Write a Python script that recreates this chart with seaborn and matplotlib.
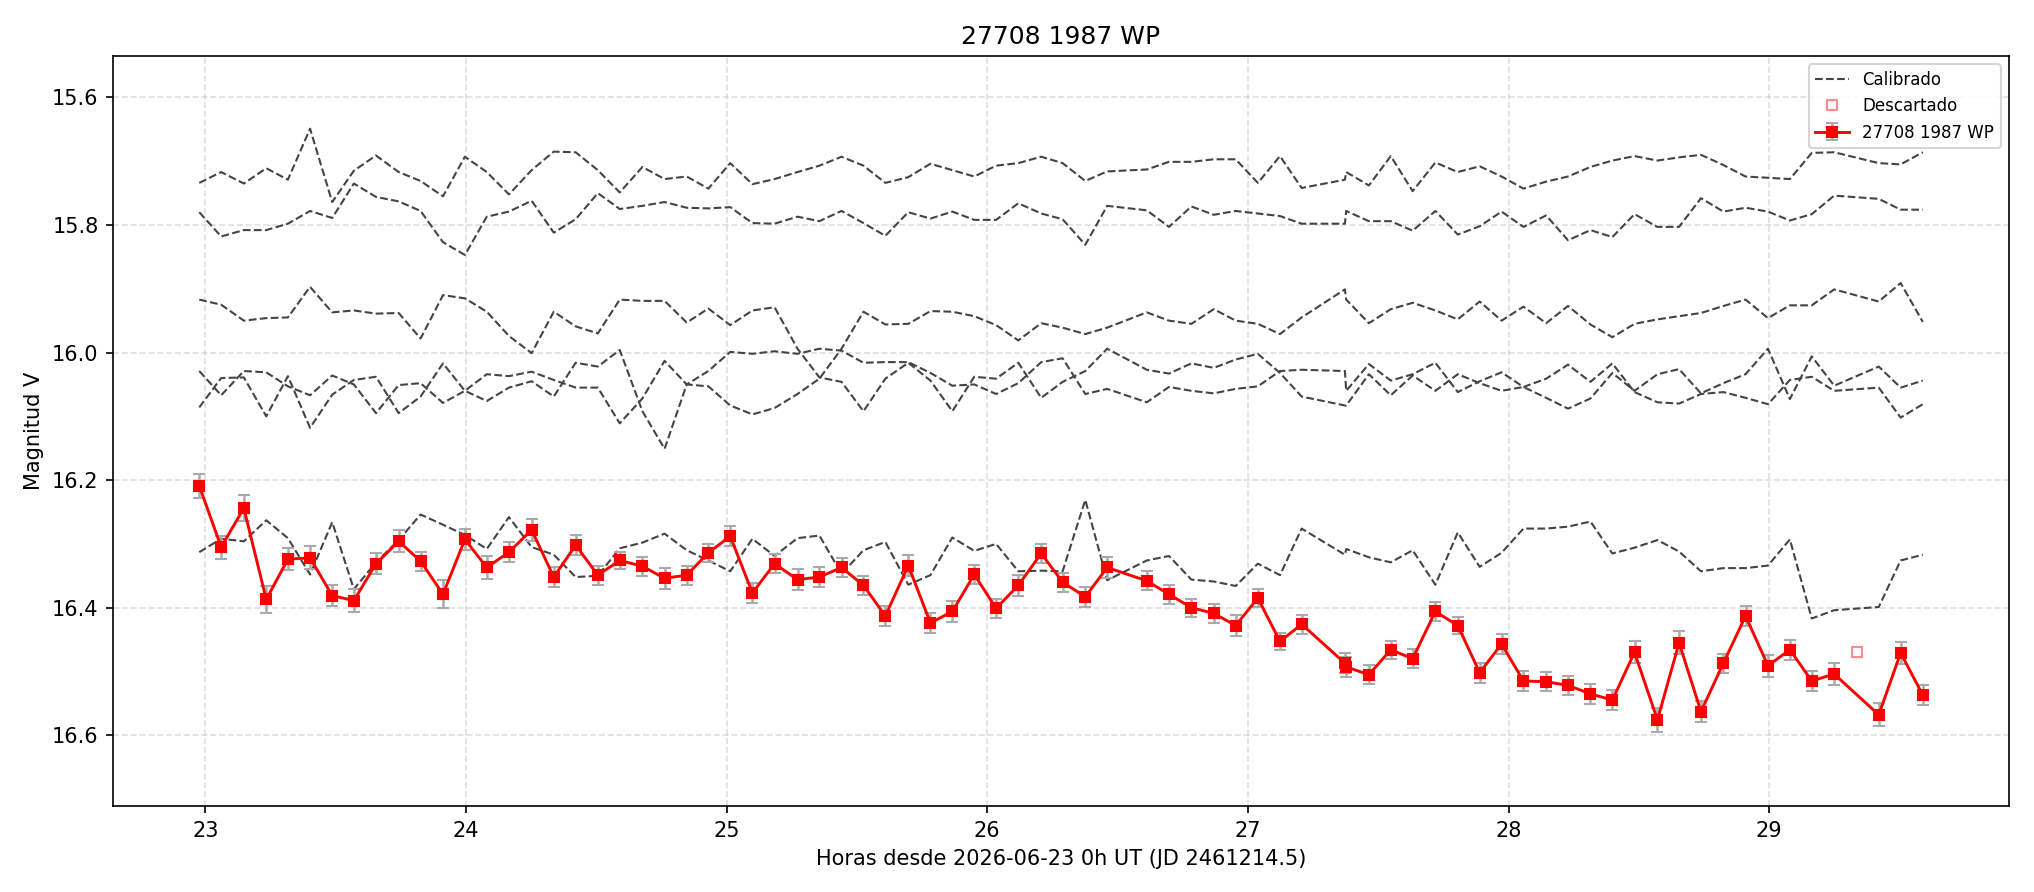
import numpy as np
import pandas as pd
import matplotlib
matplotlib.use('Agg')
import matplotlib.pyplot as plt
import seaborn as sns

# Curva de luz: horas desde 2026-06-23 0h UT
horas = [22.977, 23.061, 23.148, 23.234, 23.317, 23.402, 23.487, 23.570, 23.655, 23.742, 23.826, 23.912, 23.996,
         24.080, 24.165, 24.252, 24.337, 24.421, 24.506, 24.590, 24.677, 24.762, 24.847, 24.930, 25.014, 25.099,
         25.184, 25.272, 25.356, 25.441, 25.525, 25.609, 25.697, 25.782, 25.866, 25.950, 26.034, 26.119, 26.207,
         26.289, 26.376, 26.460, 26.612, 26.697, 26.783, 26.869, 26.953, 27.038, 27.123, 27.206, 27.372, 27.377,
         27.464, 27.548, 27.632, 27.719, 27.805, 27.889, 27.973, 28.057, 28.144, 28.228, 28.314, 28.398, 28.483,
         28.571, 28.654, 28.738, 28.824, 28.909, 28.995, 29.079, 29.163, 29.249, 29.420, 29.504, 29.589]

# asteroide 27708 1987 WP
mag_obj = [16.209, 16.305, 16.244, 16.387, 16.324, 16.322, 16.381, 16.389, 16.331, 16.296, 16.327, 16.379, 16.293,
           16.337, 16.313, 16.278, 16.352, 16.302, 16.349, 16.326, 16.335, 16.354, 16.349, 16.314, 16.288, 16.377,
           16.331, 16.356, 16.352, 16.337, 16.365, 16.413, 16.334, 16.424, 16.406, 16.348, 16.401, 16.365, 16.315,
           16.360, 16.383, 16.337, 16.358, 16.379, 16.400, 16.409, 16.428, 16.385, 16.453, 16.426, 16.487, 16.493,
           16.505, 16.466, 16.480, 16.406, 16.428, 16.502, 16.457, 16.515, 16.516, 16.522, 16.535, 16.545, 16.470,
           16.576, 16.455, 16.563, 16.487, 16.413, 16.491, 16.466, 16.515, 16.504, 16.568, 16.471, 16.537]

err_obj = [0.019, 0.018, 0.020, 0.021, 0.017, 0.018, 0.016, 0.018, 0.016, 0.017, 0.015, 0.022, 0.017,
           0.018, 0.016, 0.017, 0.016, 0.016, 0.015, 0.014, 0.015, 0.016, 0.015, 0.014, 0.016, 0.015,
           0.015, 0.016, 0.016, 0.015, 0.015, 0.016, 0.016, 0.016, 0.017, 0.015, 0.015, 0.016, 0.015,
           0.015, 0.016, 0.016, 0.015, 0.015, 0.014, 0.015, 0.016, 0.014, 0.014, 0.015, 0.016, 0.016,
           0.015, 0.014, 0.015, 0.015, 0.014, 0.016, 0.015, 0.016, 0.015, 0.015, 0.016, 0.016, 0.017,
           0.019, 0.018, 0.017, 0.015, 0.016, 0.017, 0.016, 0.016, 0.017, 0.018, 0.017, 0.016]

# punto descartado
horas_desc = [29.336]
mag_desc = [16.469]

# estrellas de calibracion
cal_a = [15.734, 15.717, 15.735, 15.711, 15.729, 15.649, 15.764, 15.715, 15.691, 15.717, 15.731, 15.755, 15.693,
         15.717, 15.752, 15.714, 15.685, 15.686, 15.714, 15.749, 15.709, 15.728, 15.724, 15.743, 15.703, 15.736,
         15.728, 15.717, 15.707, 15.693, 15.707, 15.734, 15.725, 15.704, 15.714, 15.724, 15.707, 15.703, 15.693,
         15.703, 15.731, 15.716, 15.713, 15.701, 15.701, 15.697, 15.697, 15.734, 15.692, 15.742, 15.729, 15.717,
         15.738, 15.692, 15.747, 15.702, 15.717, 15.708, 15.724, 15.743, 15.732, 15.724, 15.709, 15.699, 15.692,
         15.699, 15.694, 15.690, 15.706, 15.724, 15.726, 15.728, 15.687, 15.686, 15.703, 15.705, 15.686]
cal_b = [15.780, 15.818, 15.808, 15.808, 15.798, 15.778, 15.789, 15.735, 15.756, 15.763, 15.778, 15.827, 15.847,
         15.787, 15.779, 15.762, 15.812, 15.791, 15.750, 15.775, 15.770, 15.764, 15.773, 15.774, 15.772, 15.797,
         15.798, 15.787, 15.794, 15.778, 15.797, 15.817, 15.780, 15.790, 15.779, 15.792, 15.792, 15.766, 15.782,
         15.791, 15.831, 15.770, 15.777, 15.803, 15.771, 15.784, 15.778, 15.782, 15.786, 15.798, 15.798, 15.778,
         15.794, 15.794, 15.809, 15.778, 15.815, 15.802, 15.779, 15.803, 15.785, 15.824, 15.808, 15.819, 15.783,
         15.803, 15.803, 15.758, 15.779, 15.773, 15.779, 15.793, 15.783, 15.754, 15.759, 15.776, 15.776]
cal_c = [15.917, 15.925, 15.950, 15.946, 15.945, 15.897, 15.937, 15.934, 15.939, 15.938, 15.978, 15.910, 15.915,
         15.936, 15.974, 16.001, 15.936, 15.959, 15.970, 15.917, 15.919, 15.919, 15.953, 15.931, 15.957, 15.934,
         15.929, 15.994, 16.039, 16.046, 16.092, 16.041, 16.016, 16.044, 16.092, 16.038, 16.041, 16.016, 16.071,
         16.046, 16.029, 15.994, 16.027, 16.033, 16.017, 16.024, 16.011, 16.002, 16.032, 16.069, 16.083, 16.083,
         16.034, 16.067, 16.036, 16.060, 16.034, 16.048, 16.060, 16.054, 16.071, 16.088, 16.072, 16.032, 16.060,
         16.034, 16.026, 16.064, 16.048, 16.034, 15.994, 16.073, 16.006, 16.052, 16.022, 16.055, 16.044]
cal_d = [16.029, 16.067, 16.029, 16.031, 16.053, 16.067, 16.036, 16.050, 16.095, 16.051, 16.048, 16.079, 16.060,
         16.034, 16.037, 16.030, 16.043, 16.055, 16.055, 16.111, 16.072, 16.013, 16.050, 16.029, 15.999, 16.002,
         15.998, 16.002, 15.994, 15.997, 16.016, 16.015, 16.015, 16.032, 16.052, 16.050, 16.065, 16.048, 16.015,
         16.009, 16.065, 16.057, 16.078, 16.054, 16.060, 16.064, 16.057, 16.053, 16.029, 16.027, 16.029, 16.060,
         16.018, 16.044, 16.034, 16.016, 16.062, 16.045, 16.031, 16.054, 16.041, 16.019, 16.046, 16.017, 16.062,
         16.078, 16.080, 16.065, 16.062, 16.071, 16.081, 16.043, 16.038, 16.060, 16.055, 16.102, 16.081]
cal_e = [16.086, 16.040, 16.039, 16.100, 16.037, 16.118, 16.066, 16.043, 16.038, 16.095, 16.069, 16.017, 16.060,
         16.076, 16.055, 16.045, 16.069, 16.016, 16.022, 15.996, 16.092, 16.151, 16.050, 16.053, 16.083, 16.097,
         16.087, 16.065, 16.041, 15.994, 15.936, 15.956, 15.955, 15.935, 15.936, 15.943, 15.957, 15.981, 15.954,
         15.961, 15.971, 15.961, 15.937, 15.950, 15.955, 15.932, 15.950, 15.955, 15.971, 15.945, 15.901, 15.917,
         15.954, 15.932, 15.922, 15.934, 15.948, 15.920, 15.950, 15.928, 15.954, 15.927, 15.956, 15.976, 15.955,
         15.948, 15.943, 15.938, 15.927, 15.917, 15.946, 15.926, 15.926, 15.901, 15.920, 15.891, 15.952]
cal_f = [16.313, 16.292, 16.296, 16.263, 16.291, 16.348, 16.266, 16.371, 16.329, 16.294, 16.254, 16.270, 16.286,
         16.308, 16.258, 16.305, 16.317, 16.352, 16.350, 16.307, 16.298, 16.284, 16.310, 16.326, 16.343, 16.292,
         16.319, 16.291, 16.287, 16.347, 16.310, 16.297, 16.364, 16.349, 16.290, 16.311, 16.300, 16.343, 16.342,
         16.343, 16.231, 16.357, 16.326, 16.319, 16.356, 16.359, 16.366, 16.331, 16.349, 16.276, 16.317, 16.308,
         16.321, 16.329, 16.310, 16.364, 16.282, 16.336, 16.314, 16.276, 16.276, 16.273, 16.265, 16.315, 16.306,
         16.294, 16.312, 16.343, 16.338, 16.338, 16.334, 16.293, 16.417, 16.404, 16.399, 16.326, 16.317]

calibradas = [cal_a, cal_b, cal_c, cal_d, cal_e, cal_f]

fig = plt.figure(figsize=(13.56, 5.947), dpi=150)
ax = fig.add_subplot(111)
fig.subplots_adjust(left=0.0556, right=0.9877, top=0.9372, bottom=0.0964)

# lineas de calibracion
for i, cal in enumerate(calibradas):
    df = pd.DataFrame({'horas': horas, 'mag': cal})
    sns.lineplot(x='horas', y='mag', data=df, ax=ax, color='#444444', linestyle='--',
                 linewidth=1.0, label='Calibrado' if i == 0 else None, sort=False, estimator=None)

# descartados
ax.plot(horas_desc, mag_desc, linestyle='none', marker='s', markersize=4.5,
        markerfacecolor='none', markeredgecolor='red', markeredgewidth=1.0, alpha=0.45,
        label='Descartado')

# objeto
ax.errorbar(horas, mag_obj, yerr=err_obj, fmt='-s', color='red', markersize=4.8, linewidth=1.4,
            ecolor='#aaaaaa', elinewidth=1.2, capsize=3, capthick=1.0, label='27708 1987 WP', zorder=5)

ax.set_ylim(16.711, 15.535)
ax.set_title('27708 1987 WP', fontsize=12)
ax.set_xlabel('Horas desde 2026-06-23 0h UT (JD 2461214.5)')
ax.set_ylabel('Magnitud V')
ax.grid(True, linestyle='--', alpha=0.4)
ax.legend(loc='upper right', fontsize=8)

fig.savefig('out.png', dpi=150)
